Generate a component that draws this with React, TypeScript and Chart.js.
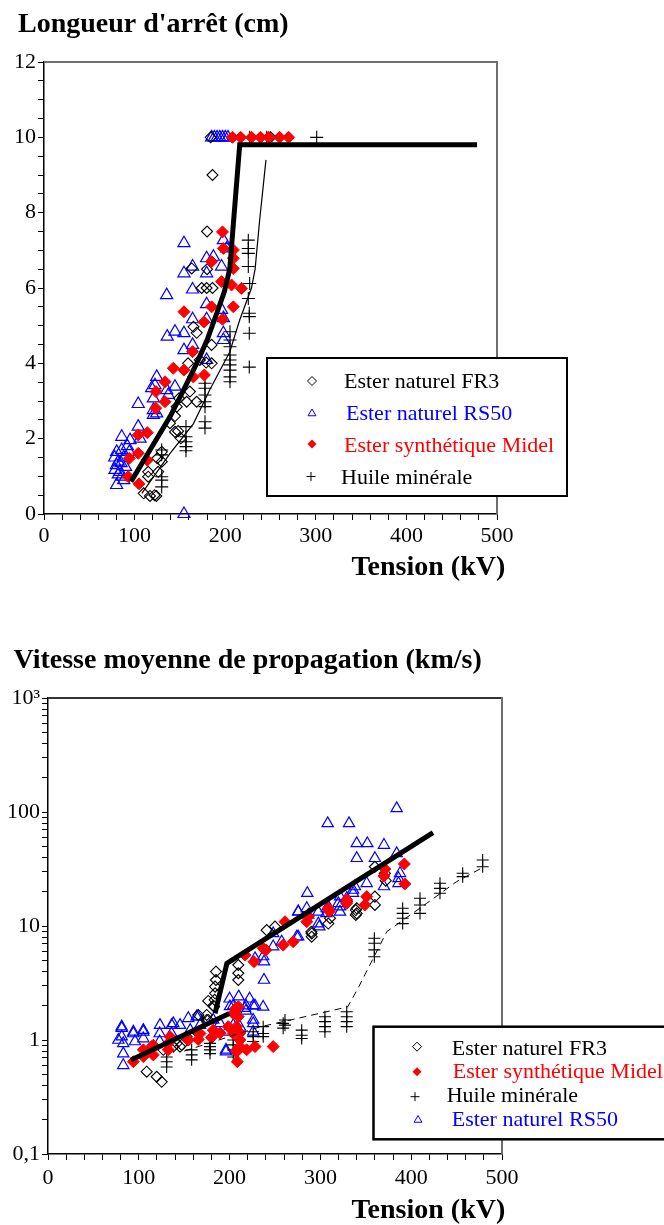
import React, { useEffect, useRef } from 'react';
import { Chart, registerables } from 'chart.js';

Chart.register(...registerables);

type P = [number, number];

const FONT = '"Liberation Serif", "Times New Roman", serif';

// ---------------- Top chart: Longueur d'arrêt (cm) vs Tension (kV) ----------------
const lenTitle = "Longueur d'arrêt (cm)";
const xTitle = 'Tension (kV)';
const xTickLabels = [0, 100, 200, 300, 400, 500];
const lenYTickLabels = [0, 2, 4, 6, 8, 10, 12];

const lenFR3: P[] = [
  [184, 10], [250, 10], [186, 9.0], [180, 7.5], [163, 6.52], [180, 6.5], [174, 6.0], [179.5, 6.0], [186, 6.0],
  [165, 4.97], [168.5, 4.81], [185, 4.49], [159, 4.0], [172, 4.09], [179, 4.02], [185, 4.0], [161, 3.25],
  [149, 3.07], [157.5, 2.98], [168.5, 2.98], [144.6, 2.6], [139, 2.41], [144.6, 2.18], [151, 2.01], [148, 2.2],
  [146.5, 2.85], [130, 1.65], [125, 1.48], [130, 1.39], [115, 1.12], [115, 0.99], [126, 1.12], [110, 0.55],
  [117, 0.48], [124, 0.48], [122, 0.5],
];
const lenRS50: P[] = [
  [185, 10], [188, 10], [191, 10], [194, 10], [197, 10], [200, 10], [203, 10],
  [154.5, 7.19], [198, 7.27], [201.6, 7.05], [179.5, 6.79], [187, 6.83], [196, 6.57], [154.5, 6.39], [164, 6.57],
  [179.5, 6.39], [135.4, 5.81], [164, 5.96], [179.5, 5.57], [196, 5.42], [164, 5.17], [179.5, 5.17], [198, 5.2],
  [136, 4.71], [144.6, 4.84], [154.5, 4.8], [198, 4.8], [198, 4.62], [154.5, 4.35], [164, 4.49], [179.5, 4.09],
  [124.4, 3.64], [122.5, 3.42], [118.8, 3.34], [135.4, 3.29], [144.6, 3.38], [120.7, 3.07], [137.2, 3.16],
  [104, 2.92], [120.7, 2.76], [124.4, 2.67], [120.7, 2.63], [104, 2.32], [85.8, 2.05], [95, 1.96], [106, 2.0],
  [80.2, 1.65], [85.8, 1.7], [94.2, 1.65], [82, 1.39], [85, 1.35], [78.4, 1.17], [83.9, 1.12], [85.8, 0.99],
  [80.2, 0.77], [78, 1.5], [88, 1.5], [80, 1.3], [90, 1.25], [82, 1.05], [88, 0.9], [92, 1.8], [154.5, 0],
];
const lenMidel: P[] = [
  [208, 10], [217, 10], [229, 10], [239, 10], [248, 10], [260, 10], [270, 10],
  [197, 7.49], [198, 7.05], [185, 6.7], [209, 7.01], [209, 6.79], [209, 6.52], [196, 6.17], [218, 5.99],
  [207, 6.08], [185, 5.5], [209, 5.5], [154.5, 5.37], [176.6, 5.1], [197, 5.17], [164, 4.31], [142.7, 3.87],
  [154.5, 3.82], [164.8, 3.64], [177, 3.69], [133.6, 3.51], [123.6, 3.25], [133.6, 2.98], [123.3, 2.81],
  [104, 2.1], [114, 2.16], [104, 1.61], [114, 1.43], [94.2, 1.48], [93, 0.99], [104.9, 0.8],
];
const lenHuile: P[] = [
  [301, 10], [227, 10], [245.8, 10],
  [225.5, 7.27], [225.5, 7.05], [225.5, 6.92], [225.5, 6.57], [227, 6.12], [225.5, 5.72], [226.6, 5.33],
  [226.6, 5.24], [226.6, 4.8], [205.3, 4.84], [205.3, 4.62], [205.3, 4.44], [205.3, 4.22], [205.3, 4.09],
  [205.3, 3.96], [205.3, 3.82], [205.3, 3.64], [205.3, 3.51], [226.6, 3.9], [177.7, 3.47], [177.7, 3.34],
  [177.7, 3.16], [177.7, 2.98], [177.7, 2.85], [177.7, 2.45], [177.7, 2.28], [156.7, 2.32], [156.7, 2.05],
  [156.7, 1.92], [156.7, 1.79], [156.7, 1.68], [129.9, 1.7], [129.9, 1.57], [129.9, 0.99], [129.9, 0.9],
  [129.9, 0.72],
];
const lenFitEsters: P[] = [
  [96, 0.86], [117, 1.7], [139, 2.58], [154, 3.29], [168.5, 4.0], [180, 4.62], [191, 5.35], [199, 5.9],
  [205, 6.5], [216, 9.8], [478, 9.8],
];
const lenFitHuile: P[] = [
  [108, 0.55], [139, 1.6], [165, 2.4], [183, 3.3], [205, 4.3], [216, 5.15], [229, 6.0], [233, 6.5],
  [238, 7.8], [245, 9.4],
];

// ---------------- Bottom chart: Vitesse moyenne (km/s), log scale ----------------
const vitTitle = 'Vitesse moyenne de propagation (km/s)';
const vitYTickValues = [
  0.1, 0.2, 0.3, 0.4, 0.5, 0.6, 0.7, 0.8, 0.9,
  1, 2, 3, 4, 5, 6, 7, 8, 9,
  10, 20, 30, 40, 50, 60, 70, 80, 90,
  100, 200, 300, 400, 500, 600, 700, 800, 900, 1000,
];
const vitYLabelValues = [0.1, 1, 10, 100, 1000];
const vitYLabelTexts = ['0,1', '1', '10', '100', '10³'];

const vitFR3: P[] = [
  [108.7, 0.527], [119.7, 0.476], [125.2, 0.43], [127, 0.82], [138, 0.875], [147.2, 0.905], [154.5, 1.0],
  [165.5, 1.14], [174.8, 1.5], [182, 2.0], [176.5, 2.2], [165.5, 1.66], [174.8, 1.66], [176.5, 1.5],
  [152.7, 1.07], [141.7, 0.935], [145.4, 0.875], [185, 3.98], [185, 3.36], [184, 2.94], [184, 2.57],
  [183.5, 2.25], [183, 1.96], [209.6, 3.85], [209.6, 3.36], [209.6, 4.55], [240.8, 9.2], [250, 9.87],
  [290.4, 8.6], [290.4, 8.05], [308.7, 10.5], [310.6, 11.7], [340, 12.9], [340, 14.3], [360, 33.1],
  [360, 18.1], [360, 15.3], [339, 13.8], [339, 12.5], [290, 8.9], [371, 29], [372, 25],
];
const vitMidel: P[] = [
  [94, 0.645], [105, 0.715], [116, 0.74], [114.2, 0.875], [132.5, 0.82], [132.5, 0.935], [154.5, 1.0],
  [167.4, 1.14], [182, 1.22], [198.6, 1.31], [204, 1.71], [207, 1.9], [208.5, 0.645], [208, 0.82],
  [218.8, 0.82], [228, 0.875], [248, 0.875], [211.4, 1.0], [204, 1.14], [261, 10.9], [270, 7.28], [259, 6.8],
  [237, 6.37], [226.9, 4.86], [217, 5.56], [285, 10.9], [308.7, 14.3], [329, 17], [209.6, 1.96], [209.6, 1.6],
  [207.8, 1.31], [211.4, 1.15], [211.4, 0.875], [207.8, 0.79], [189.4, 1.15], [180, 1.05], [165.5, 1.01],
  [134.4, 1.07], [116, 0.9], [105, 0.82], [392.4, 35], [393, 23.4], [371, 31.6], [370, 27.4], [351, 18.1],
  [349, 15.3], [309.8, 13.4], [329, 15.8], [286.7, 12.1], [240, 6.17],
];
const vitHuile: P[] = [
  [130.7, 0.71], [130.7, 0.645], [130.7, 0.58], [158.2, 0.82], [158.2, 0.74], [158.2, 0.67], [178.4, 0.875],
  [178.4, 0.82], [178.4, 0.76], [178.4, 0.935], [204, 1.0], [204, 0.906], [204, 0.82], [204, 0.71],
  [226, 1.18], [226, 1.07], [226, 0.97], [237, 1.31], [237, 1.14], [237, 1.07], [259, 1.4], [259, 1.27],
  [261, 1.5], [261, 1.35], [279.4, 1.22], [279.4, 1.1], [279.4, 1.03], [305, 1.6], [305, 1.45], [305, 1.31],
  [305, 1.18], [329, 1.77], [329, 1.6], [329, 1.45], [329, 1.31], [359.4, 7.8], [359.4, 7.05], [359.4, 6.17],
  [359.4, 5.38], [390.6, 14.3], [390.6, 12.9], [390.6, 11.7], [390.6, 10.5], [409.7, 17.5], [409.7, 15.3],
  [409.7, 12.9], [431.7, 23.7], [431.7, 21.4], [431.7, 19.4], [456.7, 29], [456.7, 27.1], [478.7, 37.9],
  [478.7, 33.1],
];
const vitRS50: P[] = [
  [81.2, 1.27], [81.2, 1.07], [82.9, 0.935], [82.9, 0.76], [82.9, 0.6], [77.5, 1.0], [94, 1.14], [105, 1.18],
  [105, 1.03], [95.8, 0.97], [123.3, 1.35], [123, 1.14], [123, 0.97], [138, 1.4], [145.4, 1.35], [136, 1.14],
  [154.5, 1.55], [156.6, 1.22], [165.5, 1.6], [167.4, 1.35], [182, 1.5], [189.4, 1.4], [196.8, 1.18],
  [196, 0.82], [200.4, 1.97], [204, 1.35], [211.4, 1.3], [218, 1.8], [218, 2.0], [226, 2.0], [237, 1.95],
  [226, 1.5], [226, 1.4], [226, 1.18], [81.1, 1.31], [94, 1.18], [105, 1.22], [136.2, 1.35], [163.7, 1.6],
  [204, 2.0], [217, 1.9], [228, 2.0], [237.9, 3.36], [237.9, 4.86], [228, 5.2], [257.4, 7.28], [274, 8.05],
  [275.6, 13.3], [285, 14.3], [285.6, 19.4], [286.7, 12.5], [297.7, 13.3], [298.8, 9.87], [307, 14.3],
  [319.7, 15.8], [321.6, 13.3], [329, 17.5], [336, 19.4], [338, 22.2], [196, 0.79], [384, 107.6], [308, 79.4],
  [331.5, 79.4], [340, 53], [351.7, 53], [370, 51.3], [384, 43.4], [340, 39.3], [360, 39.3], [387.7, 29],
  [386, 26.2], [386, 23.7], [370, 22.2], [351, 23.7], [336, 20.7], [321.6, 18.1], [321.6, 14.8], [308.7, 14.8],
  [275.6, 13.4], [297.7, 10.5], [306.6, 12.9], [275.6, 8.05], [248, 8.6], [248, 6.6], [237, 5.4], [200, 2.3],
  [210, 2.4], [222, 2.3],
];
const vitFitLow: P[] = [[91.4, 0.668], [199.7, 1.71]];
const vitFitHigh: P[] = [[184, 1.71], [197, 4.7], [424, 66]];
const vitFitHuile: P[] = [
  [150, 0.8], [233, 1.3], [330, 1.95], [342, 2.9], [373, 8.9], [417, 15.8], [450, 24.5], [480, 33],
];

// ---------------- helpers ----------------
const BLUE = '#0000ff';
const RED = '#ff0000';
const BLACK = '#000000';

const toXY = (d: P[]) => d.map(([x, y]) => ({ x, y }));

function pointSet(data: P[], kind: string, r: number, order: number) {
  const base: any = { type: 'scatter', data: toXY(data), order, clip: false, showLine: false, pointRadius: r, pointHoverRadius: r };
  if (kind === 'diamond') return { ...base, pointStyle: 'rectRot', borderColor: BLACK, backgroundColor: 'rgba(0,0,0,0)', borderWidth: 1.1 };
  if (kind === 'diamondFill') return { ...base, pointStyle: 'rectRot', borderColor: RED, backgroundColor: RED, borderWidth: 1 };
  if (kind === 'triangle') return { ...base, pointStyle: 'triangle', borderColor: BLUE, backgroundColor: 'rgba(0,0,0,0)', borderWidth: 1.2 };
  return { ...base, pointStyle: 'cross', borderColor: BLACK, backgroundColor: BLACK, borderWidth: 1.1 };
}

function lineSet(data: P[], width: number, dash: number[] = []) {
  return {
    type: 'line', data: toXY(data), order: 0, clip: false, showLine: true, pointRadius: 0, pointHoverRadius: 0,
    borderColor: BLACK, backgroundColor: BLACK, borderWidth: width, borderDash: dash, tension: 0, fill: false,
    borderCapStyle: 'butt', borderJoinStyle: 'miter',
  };
}

function drawMarker(ctx: CanvasRenderingContext2D, kind: string, x: number, y: number, r: number) {
  ctx.save();
  ctx.lineWidth = 1;
  ctx.beginPath();
  if (kind === 'diamond' || kind === 'diamondFill') {
    ctx.moveTo(x - r, y); ctx.lineTo(x, y - r); ctx.lineTo(x + r, y); ctx.lineTo(x, y + r); ctx.closePath();
    if (kind === 'diamondFill') { ctx.fillStyle = RED; ctx.fill(); } else { ctx.strokeStyle = BLACK; ctx.stroke(); }
  } else if (kind === 'triangle') {
    ctx.moveTo(x, y - r); ctx.lineTo(x + 0.866 * r, y + 0.5 * r); ctx.lineTo(x - 0.866 * r, y + 0.5 * r); ctx.closePath();
    ctx.strokeStyle = BLUE; ctx.stroke();
  } else {
    ctx.moveTo(x - r, y); ctx.lineTo(x + r, y); ctx.moveTo(x, y - r); ctx.lineTo(x, y + r);
    ctx.strokeStyle = BLACK; ctx.stroke();
  }
  ctx.restore();
}

type LegendRow = { kind: string; text: string; color: string; mx: number; my: number; tx: number; ty: number };
type Decor = {
  title: string; titleX: number; titleY: number;
  axisTitleX: number; axisTitleY: number;
  topColor: string;
  box: [number, number, number, number]; boxWidth: number;
  rows: LegendRow[];
};

function decorPlugin(d: Decor) {
  return {
    id: 'decor',
    beforeDatasetsDraw(chart: any) {
      const { ctx, chartArea: a } = chart;
      ctx.save();
      ctx.lineWidth = 2;
      ctx.strokeStyle = d.topColor;
      ctx.beginPath(); ctx.moveTo(a.left, a.top); ctx.lineTo(a.right + 1, a.top); ctx.stroke();
      ctx.strokeStyle = '#6e6e6e';
      ctx.beginPath(); ctx.moveTo(a.right, a.top - 1); ctx.lineTo(a.right, a.bottom); ctx.stroke();
      ctx.restore();
    },
    afterDraw(chart: any) {
      const ctx: CanvasRenderingContext2D = chart.ctx;
      ctx.save();
      ctx.fillStyle = BLACK;
      ctx.textAlign = 'left';
      ctx.textBaseline = 'alphabetic';
      ctx.font = `bold 28px ${FONT}`;
      ctx.fillText(d.title, d.titleX, d.titleY);
      ctx.fillText(xTitle, d.axisTitleX, d.axisTitleY);
      const [bx, by, bw, bh] = d.box;
      ctx.fillStyle = '#ffffff';
      ctx.fillRect(bx, by, bw, bh);
      ctx.lineWidth = d.boxWidth;
      ctx.strokeStyle = BLACK;
      ctx.strokeRect(bx, by, bw, bh);
      ctx.font = `22px ${FONT}`;
      d.rows.forEach((r) => {
        drawMarker(ctx, r.kind, r.mx, r.my, 4.5);
        ctx.fillStyle = r.color;
        ctx.fillText(r.text, r.tx, r.ty);
      });
      ctx.restore();
    },
  };
}

function xScale(height: number, pad: number) {
  return {
    type: 'linear', position: 'bottom', min: 0, max: 500,
    ticks: {
      stepSize: 20, autoSkip: false, maxRotation: 0, padding: pad, color: BLACK,
      font: { family: FONT, size: 22 },
      callback: (v: any) => (xTickLabels.includes(v) ? String(v) : ''),
    },
    grid: { display: true, drawOnChartArea: false, drawTicks: true, tickLength: 6, color: BLACK, tickWidth: 1 },
    border: { display: true, color: BLACK, width: 1.5 },
    afterFit: (s: any) => { s.height = height; },
  };
}

const App: React.FC = () => {
  const topRef = useRef<HTMLCanvasElement>(null);
  const botRef = useRef<HTMLCanvasElement>(null);

  useEffect(() => {
    const top = new Chart(topRef.current as HTMLCanvasElement, {
      type: 'scatter',
      data: {
        datasets: [
          lineSet(lenFitEsters, 5),
          lineSet(lenFitHuile, 1.2),
          pointSet(lenMidel, 'diamondFill', 6, 1),
          pointSet(lenFR3, 'diamond', 5.5, 2),
          pointSet(lenHuile, 'plus', 6.5, 3),
          pointSet(lenRS50, 'triangle', 7, 4),
        ] as any,
      },
      options: {
        responsive: false, animation: false, devicePixelRatio: 1,
        layout: { padding: { left: 0, right: 167, top: 62, bottom: 0 } },
        plugins: { legend: { display: false }, tooltip: { enabled: false }, title: { display: false } },
        events: [],
        scales: {
          x: xScale(86, 3) as any,
          y: {
            type: 'linear', min: 0, max: 12,
            ticks: {
              stepSize: 0.5, autoSkip: false, padding: 2, color: BLACK,
              font: { family: FONT, size: 22 },
              callback: (v: any) => (lenYTickLabels.includes(v) ? String(v) : ''),
            },
            grid: { display: true, drawOnChartArea: false, drawTicks: true, tickLength: 6, color: BLACK, tickWidth: 1 },
            border: { display: true, color: BLACK, width: 1.5 },
            afterFit: (s: any) => { s.width = 44; },
          } as any,
        },
      },
      plugins: [decorPlugin({
        title: lenTitle, titleX: 18, titleY: 31.5, axisTitleX: 351.5, axisTitleY: 575, topColor: '#6e6e6e',
        box: [267, 358, 300, 138], boxWidth: 2,
        rows: [
          { kind: 'diamond', text: 'Ester naturel FR3', color: BLACK, mx: 312, my: 381, tx: 344, ty: 388 },
          { kind: 'triangle', text: 'Ester naturel RS50', color: BLUE, mx: 312, my: 413.5, tx: 346, ty: 420 },
          { kind: 'diamondFill', text: 'Ester synthétique Midel', color: RED, mx: 312, my: 444, tx: 344, ty: 452 },
          { kind: 'plus', text: 'Huile minérale', color: BLACK, mx: 311, my: 476.5, tx: 341, ty: 484 },
        ],
      })],
    });

    const bot = new Chart(botRef.current as HTMLCanvasElement, {
      type: 'scatter',
      data: {
        datasets: [
          lineSet(vitFitLow, 5),
          lineSet(vitFitHigh, 5),
          lineSet(vitFitHuile, 1, [7, 5]),
          pointSet(vitMidel, 'diamondFill', 6, 1),
          pointSet(vitFR3, 'diamond', 5.5, 2),
          pointSet(vitHuile, 'plus', 6, 3),
          pointSet(vitRS50, 'triangle', 6.5, 4),
        ] as any,
      },
      options: {
        responsive: false, animation: false, devicePixelRatio: 1,
        layout: { padding: { left: 0, right: 162, top: 98, bottom: 0 } },
        plugins: { legend: { display: false }, tooltip: { enabled: false }, title: { display: false } },
        events: [],
        scales: {
          x: xScale(71, 5) as any,
          y: {
            type: 'logarithmic', min: 0.1, max: 1000,
            afterBuildTicks: (s: any) => { s.ticks = vitYTickValues.map((v) => ({ value: v })); },
            ticks: {
              autoSkip: false, padding: 2, color: BLACK,
              font: { family: FONT, size: 22 },
              callback: (v: any) => {
                const i = vitYLabelValues.indexOf(v);
                return i >= 0 ? vitYLabelTexts[i] : '';
              },
            },
            grid: { display: true, drawOnChartArea: false, drawTicks: true, tickLength: 6, color: BLACK, tickWidth: 1 },
            border: { display: true, color: BLACK, width: 1.5 },
            afterFit: (s: any) => { s.width = 48; },
          } as any,
        },
      },
      plugins: [decorPlugin({
        title: vitTitle, titleX: 13.5, titleY: 68.3, axisTitleX: 351.5, axisTitleY: 618.3, topColor: '#333333',
        box: [373.5, 426.7, 300, 112.6], boxWidth: 2.5,
        rows: [
          { kind: 'diamond', text: 'Ester naturel FR3', color: BLACK, mx: 417, my: 446.7, tx: 451.7, ty: 455 },
          { kind: 'diamondFill', text: 'Ester synthétique Midel', color: RED, mx: 417, my: 471.7, tx: 452.7, ty: 478.3 },
          { kind: 'plus', text: 'Huile minérale', color: BLACK, mx: 415, my: 496.7, tx: 446.7, ty: 501.7 },
          { kind: 'triangle', text: 'Ester naturel RS50', color: BLUE, mx: 418, my: 520, tx: 451.7, ty: 526 },
        ],
      })],
    });

    return () => { top.destroy(); bot.destroy(); };
  }, []);

  return (
    <div style={{ position: 'absolute', left: 0, top: 0, width: 664, height: 1225, background: '#fff' }}>
      <canvas ref={topRef} width={664} height={600} style={{ position: 'absolute', left: 0, top: 0, width: 664, height: 600, display: 'block' }} />
      <canvas ref={botRef} width={664} height={625} style={{ position: 'absolute', left: 0, top: 600, width: 664, height: 625, display: 'block' }} />
    </div>
  );
};

export default App;
